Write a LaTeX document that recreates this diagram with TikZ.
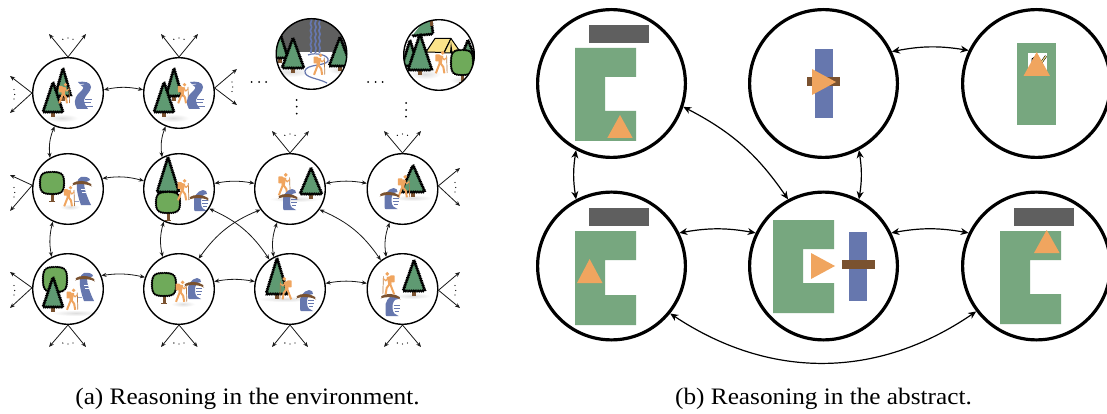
\documentclass[tikz,border=0pt]{standalone}
\usepackage{fontspec}
\setmainfont[FakeStretch=1.07]{Liberation Serif}
\usetikzlibrary{arrows.meta,decorations.pathmorphing}
\definecolor{wallg}{HTML}{77A77F}
\definecolor{agent}{HTML}{F0A55F}
\definecolor{water}{HTML}{6677AE}
\definecolor{logc}{HTML}{7A5230}
\definecolor{rock}{HTML}{5F5F5F}
\definecolor{pinec}{HTML}{5F9A72}
\definecolor{leafc}{HTML}{6FAA5A}
\definecolor{tentc}{HTML}{FBE38A}
\tikzset{
  envstate/.style={circle,draw=black,line width=1.4pt,minimum size=70.6pt,inner sep=0pt},
  absstate/.style={circle,draw=black,line width=3.2pt,minimum size=147.8pt,inner sep=0pt},
  envedge/.style={{Stealth[length=5pt,width=4pt,inset=1.5pt]}-{Stealth[length=5pt,width=4pt,inset=1.5pt]},line width=.8pt,black!90},
  absedge/.style={{Stealth[length=8pt,width=7pt,inset=2.5pt]}-{Stealth[length=8pt,width=7pt,inset=2.5pt]},line width=1.2pt},
  fanedge/.style={-{Stealth[length=5pt,width=4pt,inset=1.5pt]},line width=.8pt,black!90},
  caption/.style={font=\fontsize{23.6}{28}\selectfont,inner sep=0pt,anchor=center},
  spiky/.style={decorate,decoration={zigzag,segment length=1.8pt,amplitude=1.15pt},line width=1pt,draw=black,line join=round},
  bumpy/.style={decorate,decoration={zigzag,segment length=1.8pt,amplitude=.6pt},line width=1.1pt,draw=black,line join=round},
}
\newcommand\Shad[4]{\shade[inner color=black!13,outer color=white] (#1,#2) ellipse (#3 and #4);}
\newcommand\Pine[4]{%
  \fill[logc] (#1-1.8,#3-2) rectangle (#1+1.8,#3+5);
  \filldraw[spiky,fill=pinec] (#1,#2) -- (#1+#4,#3) -- (#1-#4,#3) -- cycle;}
\newcommand\Leaf[4]{%
  \fill[logc] (#1-1.5,#3-4) rectangle (#1+1.5,#3+8);
  \fill[logc] (#1-2.8,#3+7) rectangle (#1+2.8,#3+8);
  \filldraw[bumpy,fill=leafc] (#1,#2)
    .. controls (#1+#4*.8,#2) and (#1+#4,#2+2) .. (#1+#4,{(#2+#3)/2})
    .. controls (#1+#4,#3-2) and (#1+#4*.8,#3) .. (#1,#3)
    .. controls (#1-#4*.8,#3) and (#1-#4,#3-2) .. (#1-#4,{(#2+#3)/2})
    .. controls (#1-#4,#2+2) and (#1-#4*.8,#2) .. (#1,#2) -- cycle;}
\newcommand\Hiker[4]{% x y scale flip(1/-1)
  \begin{scope}[shift={(#1,#2)},xscale=#3*#4,yscale=#3]
    \draw[line width=.7pt,agent!75!black] (6,-6) -- (6.5,10);
    \fill[agent] (2.5,-8.3) circle (1.8);
    \fill[agent,rounded corners=.6pt] (-4.2,-7) rectangle (-.2,-.5);
    \draw[agent,line width=3.4pt] (1.5,-5.8) -- (0,.8);
    \draw[agent,line width=2pt,line join=round] (0,.5) -- (-3.8,10.3);
    \draw[agent,line width=2pt,line join=round] (0,.5) -- (3,4.5) -- (4,10.3);
    \draw[agent,line width=1.2pt,line join=round] (1.5,-5) -- (3.8,-2) -- (6,-4);
  \end{scope}}
\newcommand\RivA[2]{% S shaped; top-left at (#1,#2), about 17x27
  \begin{scope}[shift={(#1,#2)}]
    \fill[water] (3,0) .. controls (9,-1) and (16,0) .. (16,5) .. controls (16,10) and (10,13) .. (9,18) .. controls (9,22) and (11,24) .. (13,27) -- (2,27) .. controls (-1,22) and (-1,17) .. (3,12) .. controls (6,9) and (9,7) .. (8,5) .. controls (7,3) and (4,3) .. cycle;
    \draw[water,line width=.7pt] (10,17) -- (17,17) (9,20.5) -- (16,20.5) (11,24) -- (18,24);
    \draw[white,line width=.5pt] (3,3) -- (9,2) (5,6) -- (8,5);
  \end{scope}}
\newcommand\RivB[2]{% falls to the lower right
  \begin{scope}[shift={(#1,#2)}]
    \fill[water] (7,0) .. controls (12,-1) and (16,1) .. (16,3) -- (10,6) .. controls (10,11) and (13,20) .. (17,28) -- (7,28) .. controls (4,20) and (2,11) .. (3,6) .. controls (3,3) and (5,1) .. (7,0) -- cycle;
    \draw[white,line width=.6pt] (7,12) -- (11,12) (8,15) -- (12,15);
    \draw[water!70,line width=.7pt] (0,24) -- (5,24);
  \end{scope}}
\newcommand\RivC[2]{% crescent, about 15x21
  \begin{scope}[shift={(#1,#2)}]
    \fill[water] (10,0) .. controls (4,1) and (0,7) .. (1,14) .. controls (1,18) and (1,21) .. (2,21) -- (14,21) .. controls (11,20) and (8,18) .. (8,13) .. controls (8,8) and (9,4) .. (14,4) .. controls (14,2) and (13,0) .. (10,0) -- cycle;
    \draw[water,line width=.8pt] (9,10) -- (15,10) (9,13) -- (15,13) (10,16) -- (14,16);
  \end{scope}}
\newcommand\Logb[2]{% log, left end at (#1,#2), 20 wide
  \fill[logc] (#1,#2+1.5) .. controls (#1+4,#2-4) and (#1+15,#2-4) .. (#1+20,#2+2.5) .. controls (#1+15,#2-.5) and (#1+5,#2-.5) .. (#1,#2+1.5) -- cycle;
  \draw[logc,line width=1.8pt] (#1+1,#2) .. controls (#1+5,#2-3) and (#1+14,#2-3) .. (#1+19,#2+1);}
\newcommand\Tdots[2]{\fill (#1-5.2,#2+1.3) circle (.7) (#1,#2) circle (.7) (#1+5,#2+1.3) circle (.7);}
\newcommand\Bdots[2]{\fill (#1-5.2,#2-1) circle (.7) (#1,#2) circle (.7) (#1+5,#2-1) circle (.7);}
\newcommand\Ldots[2]{\fill (#1,#2-5) circle (.7) (#1+.7,#2) circle (.7) (#1,#2+4.5) circle (.7);}
\begin{document}
\begin{tikzpicture}[x=1pt,y=-1pt]
\clip (0,0) rectangle (1107,414);
\fill[white] (0,0) rectangle (1107,414);

% ---------- top scenes
\begin{scope}
  \clip (311.5,54) circle (35.5);
  \fill[rock] (270,10) rectangle (355,52);
  \draw[water,line width=1.7pt,decorate,decoration={snake,amplitude=.6pt,segment length=7pt}] (311,18) -- (311,53);
  \draw[water,line width=1.7pt,decorate,decoration={snake,amplitude=.6pt,segment length=7pt}] (315.5,18) -- (315.5,53);
  \draw[water,line width=1.7pt,decorate,decoration={snake,amplitude=.6pt,segment length=7pt}] (319.5,18) -- (319.5,53);
  \Shad{290}{72}{20}{5}\Shad{340}{70}{12}{4}
  \draw[water,line width=1.2pt] (308,55) .. controls (315,52) and (330,55) .. (328,61) .. controls (326,66) and (306,64) .. (305,71) .. controls (304,78) and (318,78) .. (327,83);
  \Pine{280}{33}{58}{8}
  \Pine{293}{38}{68}{11}
  \Pine{340}{37}{66}{11}
  \Hiker{318}{64}{1.05}{1}
\end{scope}
\begin{scope}
  \clip (439,55) circle (35.5);
  \Shad{425}{74}{16}{5}\Shad{462}{80}{12}{4}
  \fill[pinec] (412,36) -- (420,26) -- (428,19) -- (432,26) -- (433,34) -- cycle;
  \draw[spiky,fill=none] (412,36) -- (433,34);
  \draw[spiky] (433,34) -- (431,18);
  \fill[logc] (429.5,19) rectangle (433,26);
  \Pine{468}{40}{60}{8}
  \filldraw[line width=1pt,line join=round,fill=tentc] (426,52) -- (435,38.5) -- (451,38.5) -- (444,52.5) -- cycle;
  \filldraw[line width=1pt,line join=round,fill=tentc] (451,38.5) -- (444,53) -- (461,53) -- cycle;
  \fill[black] (451,42) -- (450,53) -- (452.5,53) -- cycle;
  \Pine{410}{40}{66}{8}
  \Pine{420}{34}{70}{12}
  \Hiker{440}{62}{1.1}{1}
  \Leaf{462}{50}{75}{11}
\end{scope}

% ---------- contents of the grid states
\begin{scope}[shift={(68,93)}]
  \Shad{-6}{25}{16}{4}
  \Pine{-5}{-25}{3}{8}\Pine{-15}{-11}{19}{10}\Hiker{-5}{0}{1}{1}\RivA{7}{-11}
\end{scope}
\begin{scope}[shift={(179,93)}]
  \Shad{-6}{25}{16}{4}
  \Pine{-5}{-25}{3}{8}\Pine{-15}{-11}{19}{10}\Hiker{3}{0}{1}{1}\RivA{8}{-11}
\end{scope}
\begin{scope}[shift={(68,189)}]
  \Shad{2}{18}{10}{3}
  \Leaf{-16}{-17}{5}{12}\RivB{6}{-12}\Logb{4}{-5}\Hiker{0}{7}{1}{1}
\end{scope}
\begin{scope}[shift={(179,189)}]
  \Pine{-11}{-32}{3}{11}\Leaf{-11}{3}{24}{12}\Hiker{3}{.5}{1.05}{1}\RivC{14}{1}\Logb{10}{9}
\end{scope}
\begin{scope}[shift={(290,189)}]
  \Shad{5}{10}{26}{3}
  \Pine{21}{-21}{5}{11}\Hiker{-7}{-5}{1.1}{1}\RivC{-8}{0}\Logb{-12}{8}
\end{scope}
\begin{scope}[shift={(402.5,189)}]
  \Shad{10}{9}{20}{3}
  \Pine{10.5}{-24}{3}{12}\Hiker{0}{-3}{1.1}{1}\RivC{-19}{-1}\Logb{-23}{6}
\end{scope}
\begin{scope}[shift={(68,289)}]
  \Shad{8}{24}{24}{3}
  \Leaf{-13}{-22}{3}{12}\Pine{-15}{-12}{18}{10}\RivB{9}{-16}\Logb{7}{-10}\Hiker{3}{10}{1.05}{1}
\end{scope}
\begin{scope}[shift={(179,289)}]
  \Shad{4}{15}{12}{3}
  \Leaf{-15}{-16}{7}{12}\RivC{8}{-11}\Logb{5}{-4}\Hiker{1}{2}{1.05}{1}
\end{scope}
\begin{scope}[shift={(290,289)}]
  \Shad{-5}{10}{28}{3}
  \Pine{-13}{-31}{5}{11}\Hiker{-3}{-1}{1.1}{-1}\RivC{9}{1}\Logb{6}{8}
\end{scope}
\begin{scope}[shift={(402.5,289)}]
  \Shad{10}{7}{18}{3}
  \Pine{11.5}{-29}{2}{11}\RivC{-18}{6}\Logb{-22}{8}\Hiker{-12.5}{-6}{1.1}{-1}
\end{scope}

% ---------- grid states
\node[envstate] (s11) at (68,93) {};
\node[envstate] (s12) at (179,93) {};
\node[envstate] (s13) at (311.5,54) {};
\node[envstate] (s14) at (439,55) {};
\node[envstate] (s21) at (68,189) {};
\node[envstate] (s22) at (179,189) {};
\node[envstate] (s23) at (290,189) {};
\node[envstate] (s24) at (402.5,189) {};
\node[envstate] (s31) at (68,289) {};
\node[envstate] (s32) at (179,289) {};
\node[envstate] (s33) at (290,289) {};
\node[envstate] (s34) at (402.5,289) {};

% ---------- free ends of the fans
\coordinate (a1) at (49,34); \coordinate (a2) at (86,34);
\coordinate (b1) at (161,34); \coordinate (b2) at (198,34);
\coordinate (c1) at (10,76); \coordinate (c2) at (10,113);
\coordinate (d1) at (237,69); \coordinate (d2) at (237,105);
\coordinate (e1) at (10,175); \coordinate (e2) at (10,211);
\coordinate (f1) at (10,272); \coordinate (f2) at (10,308);
\coordinate (g1) at (49,347); \coordinate (g2) at (86,347);
\coordinate (h1) at (161,347); \coordinate (h2) at (197.5,347);
\coordinate (i1) at (272,347); \coordinate (i2) at (308,347);
\coordinate (j1) at (384,347); \coordinate (j2) at (421,347);
\coordinate (k1) at (272,131); \coordinate (k2) at (309,131);
\coordinate (l1) at (384,131); \coordinate (l2) at (421,131);
\coordinate (m1) at (460,168); \coordinate (m2) at (460,206);
\coordinate (n1) at (460,272); \coordinate (n2) at (460,308);

\draw[fanedge] (s11.90) -- (a1); \draw[fanedge] (s11.90) -- (a2);
\draw[fanedge] (s12.90) -- (b1); \draw[fanedge] (s12.90) -- (b2);
\draw[fanedge] (s11.180) -- (c1); \draw[fanedge] (s11.180) -- (c2);
\draw[fanedge] (s12.8) -- (d1); \draw[fanedge] (s12.8) -- (d2);
\draw[fanedge] (s21.174) -- (e1); \draw[fanedge] (s21.174) -- (e2);
\draw[fanedge] (s31.178) -- (f1); \draw[fanedge] (s31.178) -- (f2);
\draw[fanedge] (s31.270) -- (g1); \draw[fanedge] (s31.270) -- (g2);
\draw[fanedge] (s32.270) -- (h1); \draw[fanedge] (s32.270) -- (h2);
\draw[fanedge] (s33.270) -- (i1); \draw[fanedge] (s33.270) -- (i2);
\draw[fanedge] (s34.270) -- (j1); \draw[fanedge] (s34.270) -- (j2);
\draw[fanedge] (s23.90) -- (k1); \draw[fanedge] (s23.90) -- (k2);
\draw[fanedge] (s24.90) -- (l1); \draw[fanedge] (s24.90) -- (l2);
\draw[fanedge] (s24.5) -- (m1); \draw[fanedge] (s24.5) -- (m2);
\draw[fanedge] (s34.358) -- (n1); \draw[fanedge] (s34.358) -- (n2);

% ---------- dots
\Tdots{68}{38}\Tdots{179}{38}\Tdots{290}{134}\Tdots{402.5}{134}
\Bdots{68}{344}\Bdots{179}{344}\Bdots{290}{344}\Bdots{402.5}{344}
\Ldots{14}{94.5}\Ldots{14}{192.5}\Ldots{14}{290.5}
\Ldots{232}{87}\Ldots{455}{187.5}\Ldots{455}{290.5}
\fill (251.7,82) circle (1) (259,82) circle (1) (266,82) circle (1);
\fill (368,82) circle (1) (375.7,82) circle (1) (382.7,82) circle (1);
\fill (296.7,100) circle (1) (296.7,106.7) circle (1) (296.7,113.7) circle (1);
\fill (406,103) circle (1) (406,110) circle (1) (406,116.7) circle (1);

% ---------- grid edges
\draw[envedge] (s11.5) to[bend left=12] (s12.175);
\draw[envedge] (s21.17) to[bend left=12] (s22.167);
\draw[envedge] (s22.9) to[bend left=10] (s23.171);
\draw[envedge] (s23.9) to[bend left=10] (s24.171);
\draw[envedge] (s31.22) to[bend left=10] (s32.161);
\draw[envedge] (s32.12) to[bend left=10] (s33.168);
\draw[envedge] (s33.9) to[bend left=10] (s34.171);
\draw[envedge] (s11.248) to[bend right=14] (s21.120);
\draw[envedge] (s12.248) to[bend right=14] (s22.118);
\draw[envedge] (s21.245) to[bend right=12] (s31.117);
\draw[envedge] (s22.245) to[bend right=14] (s32.117);
\draw[envedge] (s23.249) to[bend right=14] (s33.117);
\draw[envedge] (s24.249) to[bend right=14] (s34.117);
\draw[envedge] (s22.-33) to[bend left=16] (s33.125);
\draw[envedge] (s32.57) to[bend left=16] (s23.215);
\draw[envedge] (s23.-35) to[bend left=16] (s34.127);

% ---------- abstract states
\node[absstate] (A) at (611.5,83.5) {};
\node[absstate] (B) at (823.5,83.5) {};
\node[absstate] (C) at (1036.5,83.5) {};
\node[absstate] (D) at (611.5,266) {};
\node[absstate] (E) at (823.5,266) {};
\node[absstate] (F) at (1036.5,266) {};

% A
\fill[rock] (589,25) rectangle (649,43);
\fill[wallg] (575,48) -- (636,48) -- (636,77) -- (605,77) -- (605,111) -- (636,111) -- (636,141) -- (575,141) -- cycle;
\fill[agent] (620,115) -- (632.7,138) -- (607.3,138) -- cycle;
% B
\fill[water] (815,49) rectangle (833,118);
\fill[logc] (807,77) rectangle (840,86);
\fill[agent] (812,69) -- (836,82) -- (812,95) -- cycle;
% C
\fill[wallg] (1017,43) rectangle (1056,125);
\fill[white] (1028,53) rectangle (1047,76);
\draw[line width=1pt] (1032,64) -- (1032,59) -- (1035,57);
\draw[line width=2.2pt] (1041,63) -- (1046,56);
\draw[tentc,line width=1.1pt] (1041,63) -- (1046,56);
\fill[agent] (1036.7,52) -- (1050,76) -- (1023.5,76) -- cycle;
% D
\fill[rock] (589,208) rectangle (649,226);
\fill[wallg] (575,231) -- (636,231) -- (636,260) -- (605,260) -- (605,295) -- (636,295) -- (636,325) -- (575,325) -- cycle;
\fill[agent] (589.6,259) -- (602.5,283) -- (577,283) -- cycle;
% E
\fill[wallg] (773,220) -- (834,220) -- (834,249) -- (803,249) -- (803,283) -- (834,283) -- (834,313) -- (773,313) -- cycle;
\fill[agent] (811,253) -- (835,266) -- (811,279) -- cycle;
\fill[water] (849,232) rectangle (867,301);
\fill[logc] (842,260) rectangle (875,269);
% F
\fill[rock] (1014,208) rectangle (1074,226);
\fill[wallg] (1000,231) -- (1061,231) -- (1061,260) -- (1030,260) -- (1030,294) -- (1061,294) -- (1061,324) -- (1000,324) -- cycle;
\fill[agent] (1046.7,230) -- (1059.6,253) -- (1034,253) -- cycle;

% ---------- abstract edges
\draw[absedge] (A.242) to[bend right=9] (D.118);
\draw[absedge] (B.-62) to[bend left=9] (E.62);
\draw[absedge] (A.-18.6) to[bend left=14] (E.118);
\draw[absedge] (B.25.6) to[bend left=10] (C.154);
\draw[absedge] (D.26) to[bend left=10] (E.154);
\draw[absedge] (E.26) to[bend left=10] (F.154);
\draw[absedge] (D.-39.7) to[bend right=34] (F.217.4);

% ---------- captions
\node[caption] (capa) at (247.5,399) {(a) Reasoning in the environment.};
\node[caption] (capb) at (823.5,399) {(b) Reasoning in the abstract.};
\end{tikzpicture}
\end{document}
